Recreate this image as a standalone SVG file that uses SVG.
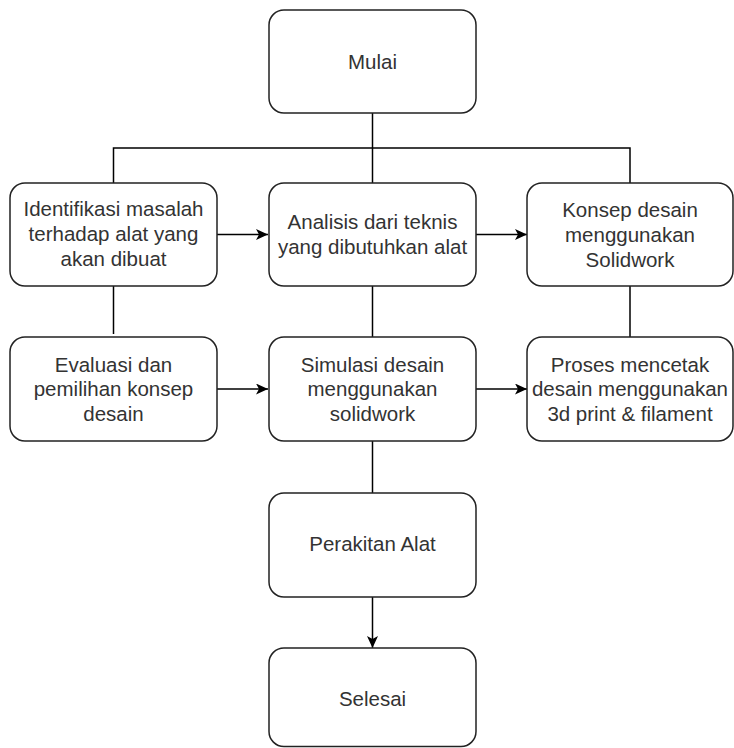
<svg xmlns="http://www.w3.org/2000/svg" width="734" height="748" viewBox="0 0 734 748">
<style>
.box{fill:#fff;stroke:#222;stroke-width:1.5}
.lbl{font-family:"Liberation Sans",Arial,sans-serif;font-size:20.5px;fill:#333;text-anchor:middle}
.ln{fill:none;stroke:#000;stroke-width:1.5}
</style>
<defs>
<marker id="arr" markerUnits="userSpaceOnUse" markerWidth="14" markerHeight="12" refX="12" refY="5.5" orient="auto" viewBox="0 0 14 12">
<path d="M0,0 L12,5.5 L0,11 L3,5.5 Z" fill="#000"/>
</marker>
</defs>
<g id="connectors">
<path class="ln" d="M372.5,113 V183"/>
<path class="ln" d="M113.5,183 V148 H630 V183"/>
<path class="ln" d="M217,234.5 H268" marker-end="url(#arr)"/>
<path class="ln" d="M476,234.5 H527" marker-end="url(#arr)"/>
<path class="ln" d="M113.5,286 V334"/>
<path class="ln" d="M372.5,286 V337"/>
<path class="ln" d="M630,286 V337"/>
<path class="ln" d="M217,389 H268" marker-end="url(#arr)"/>
<path class="ln" d="M476,389 H527" marker-end="url(#arr)"/>
<path class="ln" d="M372.5,441 V493"/>
<path class="ln" d="M372.5,597 V648" marker-end="url(#arr)"/>
</g>
<g id="mulai">
<rect class="box" x="269" y="10" width="207" height="103" rx="15"/>
<text class="lbl" x="372.5" y="68.5">Mulai</text>
</g>
<g id="identifikasi">
<rect class="box" x="10" y="183" width="207" height="103" rx="15"/>
<text class="lbl" x="113.5" y="215.5">Identifikasi masalah</text>
<text class="lbl" x="113.5" y="240.5">terhadap alat yang</text>
<text class="lbl" x="113.5" y="265.5">akan dibuat</text>
</g>
<g id="analisis">
<rect class="box" x="269" y="183" width="207" height="103" rx="15"/>
<text class="lbl" x="372.5" y="229">Analisis dari teknis</text>
<text class="lbl" x="372.5" y="254">yang dibutuhkan alat</text>
</g>
<g id="konsep">
<rect class="box" x="527" y="183" width="206" height="103" rx="15"/>
<text class="lbl" x="630" y="216.5">Konsep desain</text>
<text class="lbl" x="630" y="241.5">menggunakan</text>
<text class="lbl" x="630" y="266.5">Solidwork</text>
</g>
<g id="evaluasi">
<rect class="box" x="10" y="337" width="207" height="104" rx="15"/>
<text class="lbl" x="113.5" y="372">Evaluasi dan</text>
<text class="lbl" x="113.5" y="396">pemilihan konsep</text>
<text class="lbl" x="113.5" y="420.5">desain</text>
</g>
<g id="simulasi">
<rect class="box" x="269" y="337" width="207" height="104" rx="15"/>
<text class="lbl" x="372.5" y="372">Simulasi desain</text>
<text class="lbl" x="372.5" y="396">menggunakan</text>
<text class="lbl" x="372.5" y="420.5">solidwork</text>
</g>
<g id="proses">
<rect class="box" x="527" y="337" width="206" height="104" rx="15"/>
<text class="lbl" x="630" y="372">Proses mencetak</text>
<text class="lbl" x="630" y="396">desain menggunakan</text>
<text class="lbl" x="630" y="420.5">3d print &amp; filament</text>
</g>
<g id="perakitan">
<rect class="box" x="269" y="493" width="207" height="104" rx="15"/>
<text class="lbl" x="372.5" y="551">Perakitan Alat</text>
</g>
<g id="selesai">
<rect class="box" x="269" y="648" width="207" height="98.5" rx="15"/>
<text class="lbl" x="372.5" y="705.5">Selesai</text>
</g>
</svg>
